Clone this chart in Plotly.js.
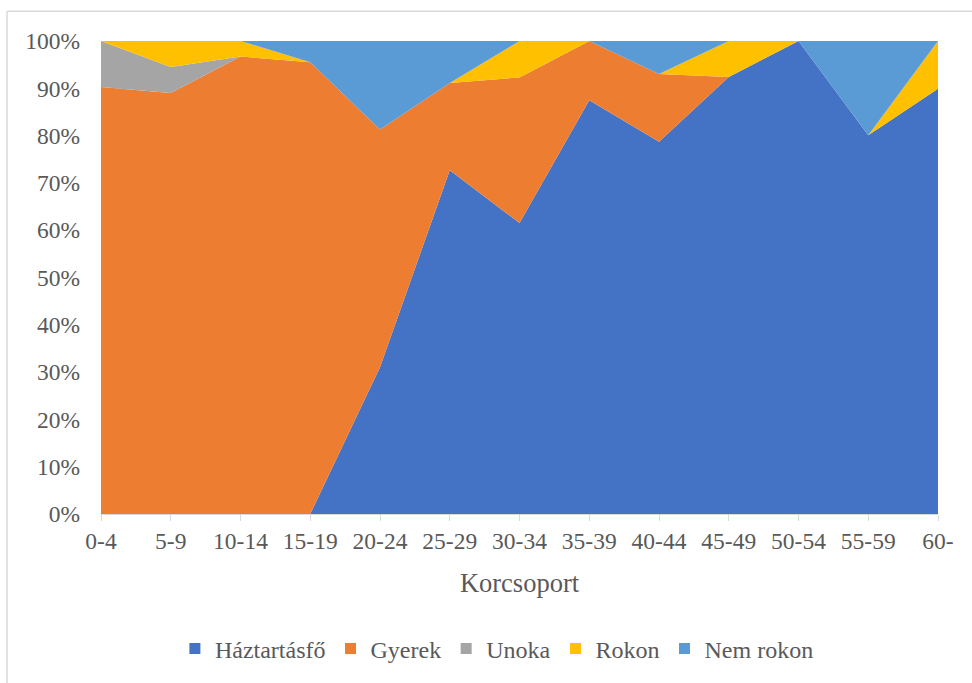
<!DOCTYPE html>
<html>
<head>
<meta charset="utf-8">
<script src="https://cdn.plot.ly/plotly-3.0.1.min.js"></script>
<style>
html,body{margin:0;padding:0;background:#fff;}
#chart{width:972px;height:683px;}
</style>
</head>
<body>
<div id="chart"></div>
<script>
var categories = ["0-4","5-9","10-14","15-19","20-24","25-29","30-34","35-39","40-44","45-49","50-54","55-59","60-"];
var haztartasfo = [0, 0, 0, 0, 31.0, 72.7, 61.5, 87.5, 78.7, 92.4, 100, 80.1, 89.9];
var gyerek      = [90.3, 89.0, 96.7, 95.5, 50.3, 18.4, 30.8, 12.5, 14.3, 0, 0, 0, 0];
var unoka       = [9.7, 5.5, 0, 0, 0, 0, 0, 0, 0, 0, 0, 0, 0];
var rokon       = [0, 5.5, 3.3, 0, 0, 0, 7.7, 0, 0, 7.6, 0, 0, 10.1];
var nemRokon    = [0, 0, 0, 4.5, 18.7, 8.9, 0, 0, 7.0, 0, 0, 19.9, 0];
var yTickVals = [0,10,20,30,40,50,60,70,80,90,100];
var yTickText = ["0%","10%","20%","30%","40%","50%","60%","70%","80%","90%","100%"];

var xIdx = categories.map(function(_, i){ return i; });
var seriesDefs = [
  ["Háztartásfő", haztartasfo, "#4472C4"],
  ["Gyerek", gyerek, "#ED7D31"],
  ["Unoka", unoka, "#A5A5A5"],
  ["Rokon", rokon, "#FFC000"],
  ["Nem rokon", nemRokon, "#5B9BD5"]
];
var traces = seriesDefs.map(function(s){
  return {
    type: "scatter", mode: "lines", name: s[0], x: xIdx, y: s[1],
    stackgroup: "one", line: {width: 0, color: s[2]}, fillcolor: s[2],
    hoverinfo: "skip", showlegend: false
  };
});
// legend entries with square swatches
seriesDefs.forEach(function(s){
  traces.push({
    type: "scatter", mode: "markers", name: s[0], x: [null], y: [null],
    marker: {symbol: "square", size: 11, color: s[2]}, showlegend: true, hoverinfo: "skip"
  });
});

var fontFam = "Liberation Serif, Times New Roman, serif";
var layout = {
  width: 972, height: 683,
  margin: {l: 101, r: 34, t: 41, b: 165},
  paper_bgcolor: "#ffffff", plot_bgcolor: "#ffffff",
  font: {family: fontFam, color: "#595959", size: 23},
  showlegend: true,
  legend: {orientation: "h", x: 0.473, xanchor: "center", y: -0.285, yanchor: "middle",
           font: {family: fontFam, size: 24, color: "#595959"}, itemwidth: 30, traceorder: "normal"},
  xaxis: {
    range: [0, 12], tickvals: xIdx, ticktext: categories, automargin: false,
    showgrid: false, zeroline: false, showline: true, linecolor: "#d9d9d9", linewidth: 1,
    ticks: "outside", ticklen: 6, tickcolor: "#d9d9d9",
    tickfont: {family: fontFam, size: 23.5, color: "#595959"},
    title: {text: "Korcsoport", font: {family: fontFam, size: 26.5, color: "#595959"}, standoff: 20}
  },
  yaxis: {
    range: [0, 100], tickvals: yTickVals, ticktext: yTickText, automargin: false,
    showgrid: true, gridcolor: "#d9d9d9", zeroline: false, showline: false,
    tickfont: {family: fontFam, size: 23.5, color: "#595959"}, ticks: "", ticklabelstandoff: 20
  },
  shapes: [
    {type: "line", xref: "paper", yref: "paper", x0: -0.1123, x1: -0.1123, y0: 1.0629, y1: -0.5, line: {color: "#d9d9d9", width: 1.5}},
    {type: "line", xref: "paper", yref: "paper", x0: -0.1123, x1: 1.2, y0: 1.0629, y1: 1.0629, line: {color: "#d9d9d9", width: 1.5}}
  ]
};
Plotly.newPlot("chart", traces, layout, {displayModeBar: false, staticPlot: true});
</script>
</body>
</html>
